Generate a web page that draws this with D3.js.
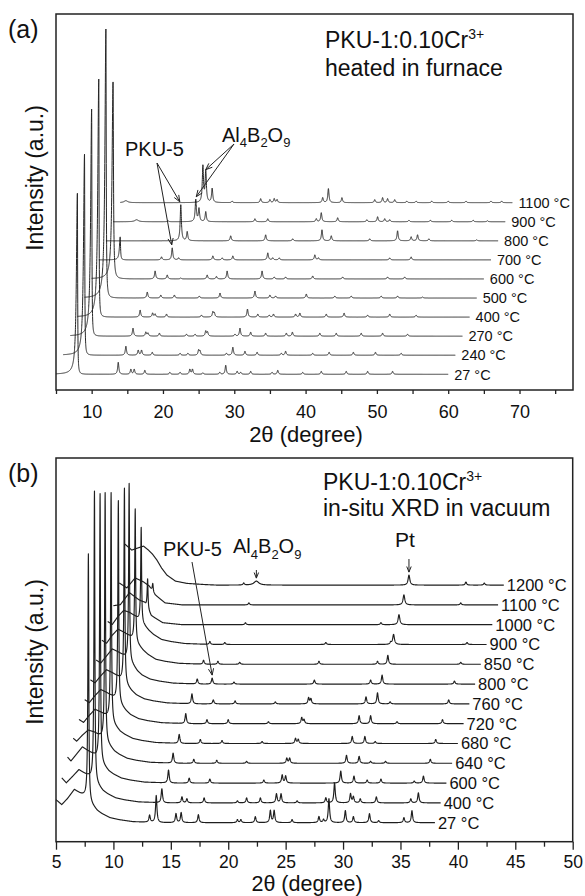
<!DOCTYPE html>
<html>
<head>
<meta charset="utf-8">
<script src="https://cdn.jsdelivr.net/npm/d3@7"></script>
<style>
  body { margin: 0; background: #fff; }
  text { font-family: "Liberation Sans", Arial, sans-serif; fill: #111; }
</style>
</head>
<body>
<svg id="chart" width="585" height="896"></svg>
<script>
// ---------------- Panel (a): samples heated in a furnace ----------------
const tempsA = ["27", "240", "270", "400", "500", "600", "700", "800", "900", "1100"];
// Reflections of each pattern: [2θ, height, HWHM left, HWHM right]
const peaksA = [
  [[8.0,181,0.16,0.04],[13.73,12],[15.5,5],[15.97,5],[17.46,4],[20.97,2],[22.4,2],[23.77,5],[24.14,5],[25.6,1.5],[27.97,2],[28.8,9],[30.4,3],[30.9,2],[32.3,3],[35.3,2],[36.1,4],[39.6,2],[42.2,3],[45.7,3],[48.7,3],[52.2,3]],
  [[8.0,201,0.16,0.04],[13.8,9],[15.53,5],[16.0,5],[17.5,3],[21.4,2],[22.5,2],[24.0,5],[24.2,4],[27.9,2],[28.8,8],[30.5,4],[32.2,3],[35.6,2],[36.2,4],[40.0,2],[42.3,3],[45.7,3],[48.8,3],[52.4,2]],
  [[8.0,227,0.16,0.04],[13.8,8],[15.6,4],[15.9,3],[17.5,3],[21.3,2],[22.5,2],[24.0,5],[24.25,4],[28.1,2],[28.8,8],[30.3,4],[32.4,3],[35.3,3],[36.15,4],[40.0,3],[42.3,3],[45.8,3],[48.8,3],[52.3,2]],
  [[8.0,238,0.16,0.04],[13.8,7],[15.55,4],[15.9,3],[17.5,3],[22.4,2],[24.0,5],[24.2,4],[28.85,8],[30.3,3],[31.9,2],[32.5,3],[35.6,3],[36.2,4],[39.9,3],[42.4,4],[45.7,2],[48.8,3],[52.5,2]],
  [[8.0,269,0.16,0.05],[13.8,6],[15.7,3],[17.6,3],[21.1,2],[24.0,5],[28.9,7],[31.0,3],[31.8,2],[36.1,4],[40.1,2],[42.4,2],[46.6,2],[48.9,2],[52.4,1]],
  [[8.0,197,0.16,0.07],[13.9,8],[15.6,4],[17.5,1],[21.2,4],[22.5,2.5],[24.0,8],[28.9,8],[30.6,2],[32.2,2],[36.0,3],[40.2,2],[46.5,2],[48.9,2]],
  [[8.0,23,0.12,0.06],[13.8,3],[15.3,12],[16.2,2],[21.0,4],[22.3,2],[23.8,4],[28.7,7],[29.4,2],[30.3,2],[35.3,5],[35.8,2],[45.8,2],[48.8,3]],
  [[15.5,36],[16.4,9],[22.5,5],[27.4,6],[31.2,2],[35.3,11],[36.6,5],[42.0,2],[45.9,10],[47.8,4],[48.7,6],[50.3,2],[57.0,1]],
  [[8.3,2,0.3,0.3],[12.7,1],[16.6,22],[17.05,13],[18.0,10],[24.9,3],[26.7,3],[33.5,3],[34.2,9],[36.5,4],[40.6,2],[42.1,5],[43.1,3],[43.8,2],[46.5,1.5],[49.5,1.5],[52.5,1.5],[55.5,1.5],[57.5,1]],
  [[5.8,2,0.3,0.3],[16.6,36],[17.0,31],[17.9,14],[20.7,1.5],[24.7,4],[26.0,3],[26.6,4],[27.0,3],[33.4,5],[34.2,14],[36.1,5],[40.7,3],[41.8,5],[42.5,4],[43.5,3],[45.2,1.5],[46.5,1.5],[48.7,1.5],[51.0,1.5],[53.5,1.5],[57.0,1.5],[58.5,1.5]]
];
const ticksA = [10, 20, 30, 40, 50, 60, 70];

// ---------------- Panel (b): in-situ patterns in vacuum ----------------
const tempsB = ["27", "400", "600", "640", "680", "720", "760", "800", "850", "900", "1000", "1100", "1200"];
// Sharp reflections: [2θ, height, HWHM left, HWHM right]
const peaksB = [
  [[7.82,247,0.05,0.04],[13.15,7],[13.73,27],[15.45,9],[15.9,10],[17.4,8],[20.8,3],[21.1,3],[22.36,6],[23.67,12],[24.0,12],[25.56,3],[27.9,6],[28.3,3],[28.77,24],[30.2,12],[30.9,6],[32.3,9],[33.1,2],[35.3,5],[36.0,12]],
  [[7.85,291,0.05,0.04],[13.72,14],[15.47,6],[15.9,4],[17.4,5],[20.3,2],[21.1,5],[22.3,5],[23.7,9],[24.1,9],[25.5,2],[28.0,5],[28.76,20],[30.15,9],[30.4,6],[31.0,4],[32.4,6],[35.4,4],[36.06,10]],
  [[7.84,268,0.05,0.04],[13.8,13],[15.6,5],[17.4,4],[22.1,3],[23.7,8],[24.0,7],[28.8,12],[29.95,7],[31.1,3],[32.3,4],[35.2,2],[36.0,7]],
  [[7.78,249,0.05,0.04],[13.7,10],[15.5,4],[17.5,3],[20.1,2],[23.6,5],[23.85,5],[28.8,8],[29.9,7],[30.9,2],[32.2,2],[36.1,4]],
  [[7.8,229,0.05,0.04],[13.73,9],[15.57,4],[17.46,3],[20.95,2],[23.86,5],[24.1,4],[28.8,7],[29.9,7],[30.8,2],[36.07,4]],
  [[7.93,202,0.05,0.04],[13.8,10],[15.65,4],[17.5,4],[21.0,2],[23.9,6],[24.1,4],[28.9,8],[29.9,8],[32.2,2],[36.16,4]],
  [[7.96,195,0.05,0.04],[13.84,10],[15.7,4],[17.6,3],[21.1,2],[24.0,6],[24.2,5],[29.0,7],[30.0,11],[31.1,2],[36.2,4]],
  [[7.87,178,0.05,0.04],[13.8,5],[15.1,6],[17.0,2],[24.0,4],[28.9,4],[29.9,9],[36.2,3]],
  [[7.9,133,0.05,0.04],[13.85,4],[15.1,3],[17.0,2],[23.9,3],[29.0,3],[29.9,9],[36.25,2]],
  [[7.92,95,0.05,0.04],[13.9,3],[15.2,2],[24.0,2],[29.65,2],[29.9,10,0.09,0.09],[36.3,2]],
  [[7.98,30,0.05,0.04],[16.5,2],[28.3,2],[29.87,10,0.09,0.09]],
  [[7.93,8,0.05,0.04],[16.3,2],[29.8,10,0.09,0.09],[34.75,2]],
  [[15.35,2],[16.45,4,0.25,0.25],[29.74,10,0.09,0.09],[34.7,3],[36.3,2]]
];
// Low-angle background of each pattern: [2θ, height] anchors
const bgB = [
  [[5,23],[5.5,18],[6.0,24],[6.6,33],[7.1,29],[7.5,26],[8.2,17],[8.6,12],[9.0,9],[9.7,5],[10.5,3],[11.7,1],[14,0],[38,0]],
  [[5,25],[5.4,20],[6.0,27],[6.5,33],[7.0,29],[7.4,26],[8.2,17],[8.6,12],[9.0,9],[9.7,5],[10.5,3],[11.7,1],[14,0],[38,0]],
  [[5,26],[5.3,22],[5.8,29],[6.3,36],[6.8,32],[7.3,28],[8.2,17],[8.6,12],[9.0,9],[9.7,5],[10.5,3],[11.7,1],[14,0],[38,0]],
  [[5,25],[5.3,22],[5.8,28],[6.3,33],[6.8,31],[7.3,27],[8.2,17],[8.6,12],[9.0,9],[9.7,5],[10.5,3],[11.7,1],[14,0],[38,0]],
  [[5,24],[5.4,21],[5.9,28],[6.4,34],[6.9,31],[7.4,27],[8.2,17],[8.6,12],[9.0,9],[9.7,5],[10.5,3],[11.7,1],[14,0],[38,0]],
  [[5,24],[5.4,21],[5.9,28],[6.4,34],[6.9,31],[7.4,27],[8.2,18],[8.6,13],[9.0,9],[9.7,5],[10.5,3],[11.7,1],[14,0],[38,0]],
  [[5,24],[5.4,21],[5.9,28],[6.4,34],[6.9,31],[7.4,27],[8.2,18],[8.6,13],[9.0,9],[9.7,5],[10.5,3],[11.7,1],[14,0],[38,0]],
  [[5,24],[5.4,21],[5.9,28],[6.4,35],[6.9,32],[7.4,28],[8.2,19],[8.6,13],[9.0,9],[9.7,5],[10.5,3],[11.7,1],[14,0],[38,0]],
  [[5,24],[5.4,21],[5.9,29],[6.4,35],[6.9,32],[7.4,28],[8.2,19],[8.6,14],[9.0,10],[9.7,5],[10.5,3],[11.7,1],[14,0],[38,0]],
  [[5,23],[5.4,20],[5.9,28],[6.4,34],[6.9,32],[7.4,28],[8.2,19],[8.6,14],[9.0,10],[9.7,5],[10.5,3],[11.7,1],[14,0],[38,0]],
  [[5,19],[5.6,20],[6.4,32],[7.2,25],[7.7,22],[8.3,9],[9.3,2],[11,0],[38,0]],
  [[5,22],[5.67,17],[6.39,27],[7.12,23],[7.6,19],[8.14,10],[9.0,2],[10.5,0],[38,0]],
  [[5,41],[5.6,35],[6.1,37],[6.62,39],[7.05,35],[7.4,31],[7.79,25],[8.2,17],[8.66,10],[9.4,4],[10.4,1.7],[12,0.5],[13,0],[38,0]]
];
const ticksB = [5, 10, 15, 20, 25, 30, 35, 40, 45, 50];

// ---------------- helpers ----------------
function peakSum(x, peaks, wDef) {
  let s = 0;
  for (const p of peaks) {
    const wl = p[2] !== undefined ? p[2] : wDef;
    const wr = p[3] !== undefined ? p[3] : wl;
    const d = (x - p[0]) / (x < p[0] ? wl : wr);
    s += p[1] / (1 + d * d);
  }
  return s;
}
function sampleTrace(peaks, bgScale, lo, hi, step, wDef) {
  const xs = d3.range(lo, hi + step / 2, step);
  peaks.forEach(p => { if (p[0] > lo && p[0] < hi) xs.push(p[0]); });
  xs.sort(d3.ascending);
  return xs.map(x => [x, (bgScale ? bgScale(x) : 0) + peakSum(x, peaks, wDef)]);
}
function arrow(g, x1, y1, x2, y2, len, sw) {
  const a = Math.atan2(y2 - y1, x2 - x1);
  const spread = 0.38;
  g.append("line").attr("x1", x1).attr("y1", y1).attr("x2", x2).attr("y2", y2)
    .attr("stroke", "#222").attr("stroke-width", sw);
  g.append("path")
    .attr("d", `M${x2 - len * Math.cos(a - spread)},${y2 - len * Math.sin(a - spread)}L${x2},${y2}L${x2 - len * Math.cos(a + spread)},${y2 - len * Math.sin(a + spread)}`)
    .attr("fill", "none").attr("stroke", "#222").attr("stroke-width", sw);
}
function chemLabel(g, x, y, size) {
  const t = g.append("text").attr("x", x).attr("y", y).attr("font-size", size);
  const sub = Math.round(size * 0.65);
  [["Al", false], ["4", true], ["B", false], ["2", true], ["O", false], ["9", true]].forEach(([s, isSub]) => {
    t.append("tspan").attr("font-size", isSub ? sub : size)
      .attr("dy", isSub ? size * 0.28 : (s === "Al" ? 0 : -size * 0.28)).text(s);
  });
}
function sampleLabel(g, x, y, gap, size, second) {
  const t = g.append("text").attr("x", x).attr("y", y).attr("font-size", size);
  t.append("tspan").text("PKU-1:0.10Cr");
  t.append("tspan").attr("font-size", Math.round(size * 0.62)).attr("dy", -size * 0.4).text("3+");
  g.append("text").attr("x", x).attr("y", y + gap).attr("font-size", size).text(second);
}

const svg = d3.select("#chart");
const line = d3.line().x(d => d[0]).y(d => d[1]);

// ================= Panel (a) =================
const A = { left: 56, right: 573, top: 14, bottom: 390 };
const xA = d3.scaleLinear().domain([5, 77.5]).range([A.left, A.right]);
const yA = d3.scaleLinear().domain([0, 376]).range([A.bottom, A.top]);
const baseA = i => 15.7 + 19.07 * i;   // vertical stacking of patterns
const shiftA = i => i * 1.0;           // horizontal stacking of patterns
const gA = svg.append("g");

peaksA.forEach((pk, i) => {
  const pts = sampleTrace(pk, null, 5, 60, 0.01, 0.1)
    .map(([x, h]) => [xA(x + shiftA(i)), yA(baseA(i) + h)]);
  gA.append("path").attr("d", line(pts)).attr("fill", "none")
    .attr("stroke", "#262626").attr("stroke-width", 1).attr("stroke-linejoin", "round");
  gA.append("text").attr("x", xA(60 + shiftA(i)) + 6).attr("y", yA(baseA(i)) + 5.2)
    .attr("font-size", 14.5).text(tempsA[i] + " °C");
});

gA.append("rect").attr("x", A.left).attr("y", A.top)
  .attr("width", A.right - A.left).attr("height", A.bottom - A.top)
  .attr("fill", "none").attr("stroke", "#222").attr("stroke-width", 1.5);

const axA = gA.append("g").attr("transform", `translate(0,${A.bottom})`)
  .call(d3.axisBottom(xA).tickValues(d3.range(5, 76, 5)).tickSize(4).tickSizeOuter(0).tickPadding(11)
    .tickFormat(d => ticksA.includes(d) ? d : ""));
axA.select(".domain").remove();
axA.selectAll(".tick line").attr("stroke", "#222").attr("stroke-width", 1.3);
axA.selectAll(".tick text").attr("font-size", 18).attr("font-family", "Liberation Sans, Arial, sans-serif").attr("fill", "#111");

gA.append("text").attr("x", 306).attr("y", 442).attr("text-anchor", "middle").attr("font-size", 22).text("2θ (degree)");
gA.append("text").attr("transform", "translate(43,178) rotate(-90)").attr("text-anchor", "middle")
  .attr("font-size", 23).text("Intensity (a.u.)");
gA.append("text").attr("x", 8).attr("y", 38).attr("font-size", 25).text("(a)");
sampleLabel(gA, 325, 48, 28, 23, "heated in furnace");

// phase markers in (a)
gA.append("text").attr("x", 125).attr("y", 156).attr("font-size", 20).text("PKU-5");
chemLabel(gA, 222, 141.7, 20);
{
  const tip = (i, pos, h) => [xA(pos + shiftA(i)), yA(baseA(i) + h) - 3];
  const t1 = tip(7, 15.5, 36), t2 = tip(6, 15.3, 12);
  arrow(gA, 157, 163, t1[0] - 1, t1[1], 7, 1);
  arrow(gA, 157, 163, t2[0] - 0.5, t2[1], 7, 1);
  const t3 = tip(9, 17.0, 31), t4 = tip(8, 16.6, 22);
  arrow(gA, 234, 144, t3[0], t3[1] + 1, 7, 1);
  arrow(gA, 234, 144, t4[0] + 0.5, t4[1], 7, 1);
}

// ================= Panel (b) =================
const B = { left: 56, right: 572.7, top: 458, bottom: 841.7 };
const xB = d3.scaleLinear().domain([5, 50]).range([B.left, B.right]);
const yB = d3.scaleLinear().domain([0, 383.7]).range([B.bottom, B.top]);
const baseB = k => 19 + 19.8 * k;
const shiftB = k => k * 0.5;
const gB = svg.append("g");

peaksB.forEach((pk, k) => {
  const bg = d3.scaleLinear().domain(bgB[k].map(d => d[0])).range(bgB[k].map(d => d[1])).clamp(true);
  const pts = sampleTrace(pk, bg, 5, 38, 0.01, 0.07)
    .map(([x, h]) => [xB(x + shiftB(k)), yB(baseB(k) + h)]);
  gB.append("path").attr("d", line(pts)).attr("fill", "none")
    .attr("stroke", "#1e1e1e").attr("stroke-width", 1.15).attr("stroke-linejoin", "round");
  gB.append("text").attr("x", xB(38 + shiftB(k)) + 3).attr("y", yB(baseB(k)) + 5.9)
    .attr("font-size", 16.5).text(tempsB[k] + " °C");
});

gB.append("rect").attr("x", B.left).attr("y", B.top)
  .attr("width", B.right - B.left).attr("height", B.bottom - B.top)
  .attr("fill", "none").attr("stroke", "#222").attr("stroke-width", 1.5);

const axB = gB.append("g").attr("transform", `translate(0,${B.bottom})`)
  .call(d3.axisBottom(xB).tickValues(d3.range(5, 50.01, 2.5)).tickSize(8).tickSizeOuter(0).tickPadding(6)
    .tickFormat(d => ticksB.includes(d) ? d : ""));
axB.select(".domain").remove();
axB.selectAll(".tick line").attr("stroke", "#222").attr("stroke-width", 1.3)
  .attr("y2", d => ticksB.includes(d) ? 8 : 5);
axB.selectAll(".tick text").attr("font-size", 17.5).attr("font-family", "Liberation Sans, Arial, sans-serif").attr("fill", "#111");

gB.append("text").attr("x", 307).attr("y", 891).attr("text-anchor", "middle").attr("font-size", 21.5).text("2θ (degree)");
gB.append("text").attr("transform", "translate(43,652) rotate(-90)").attr("text-anchor", "middle")
  .attr("font-size", 23).text("Intensity (a.u.)");
gB.append("text").attr("x", 8).attr("y", 482).attr("font-size", 25).text("(b)");
sampleLabel(gB, 323, 490, 26, 23, "in-situ XRD in vacuum");

gB.append("text").attr("x", 163).attr("y", 556).attr("font-size", 20).text("PKU-5");
chemLabel(gB, 233, 553, 20);
gB.append("text").attr("x", 395).attr("y", 547).attr("font-size", 21).text("Pt");
{
  const tip = (k, pos, h) => [xB(pos + shiftB(k)), yB(baseB(k) + h)];
  const p5 = tip(7, 15.1, 6);
  arrow(gB, 192, 562, p5[0], p5[1] - 3, 7, 1);
  const al = tip(12, 16.45, 4);
  arrow(gB, al[0], 570, al[0], al[1] - 3, 6, 1);
  const pt = tip(12, 29.74, 10);
  arrow(gB, pt[0], 559, pt[0], pt[1] - 3, 6, 1);
}
</script>
</body>
</html>
